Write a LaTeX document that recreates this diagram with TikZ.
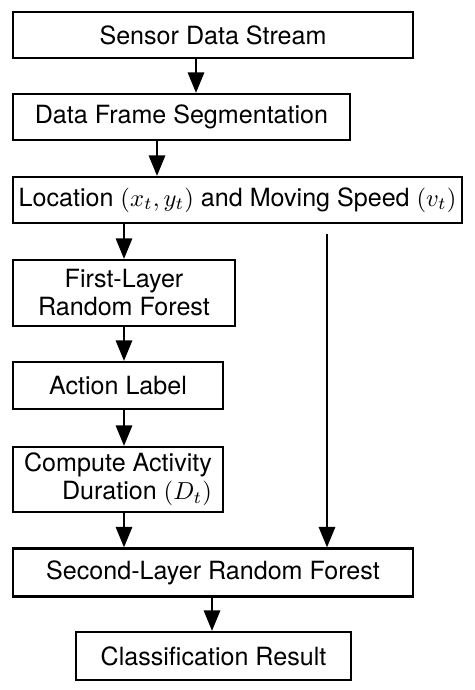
\documentclass[tikz,border=0pt]{standalone}
\usepackage{fontspec}
\setmainfont{TeX Gyre Heros}
\usetikzlibrary{arrows.meta,positioning}
\begin{document}
\begin{tikzpicture}[x=0.4065pt, y=-0.4065pt, font=\fontsize{10.2}{11.4}\selectfont,
  stepbox/.style={draw, line width=0.9pt, inner sep=0pt, align=center},
  flow/.style={-{Triangle[length=8.3pt,width=6.6pt]}, line width=0.9pt}]
  \useasboundingbox (0,0) rectangle (474,690);
  % boxes
  \node[stepbox, minimum width=400*0.4065pt, minimum height=46*0.4065pt] (sensor) at (213,35) {Sensor Data Stream};
  \node[stepbox, minimum width=337*0.4065pt, minimum height=46*0.4065pt] (segment) at (181.5,117) {Data Frame Segmentation};
  \node[stepbox, minimum width=449*0.4065pt, minimum height=46*0.4065pt] (loc) at (237.5,200) {Location $(x_t,y_t)$ and Moving Speed $(v_t)$};
  \node[stepbox, minimum width=222*0.4065pt, minimum height=66*0.4065pt] (first) at (124,293) {First-Layer\\Random Forest};
  \node[stepbox, minimum width=210*0.4065pt, minimum height=47*0.4065pt] (action) at (118,385.5) {Action Label};
  \node[stepbox, minimum width=210*0.4065pt, minimum height=65*0.4065pt, align=right] (duration) at (118,479.5) {Compute Activity\\Duration $(D_t)$};
  \node[stepbox, minimum width=400*0.4065pt, minimum height=48*0.4065pt] (second) at (213,572.5) {Second-Layer Random Forest};
  \node[stepbox, minimum width=275*0.4065pt, minimum height=48*0.4065pt] (result) at (213.5,656) {Classification Result};
  % arrows
  \draw[flow] (sensor.south -| 196,0) -- (segment.north -| 196,0);
  \draw[flow] (segment.south -| 157,0) -- (loc.north -| 157,0);
  \draw[flow] (loc.south -| first) -- (first.north);
  \draw[flow] (first.south) -- (action.north -| first);
  \draw[flow] (action.south -| first) -- (duration.north -| first);
  \draw[flow] (duration.south -| first) -- (second.north -| first);
  \draw[flow, shorten <=10*0.4065pt] (loc.south -| 327,0) -- (second.north -| 327,0);
  \draw[flow] (second.south -| 212,0) -- (result.north -| 212,0);
\end{tikzpicture}
\end{document}
